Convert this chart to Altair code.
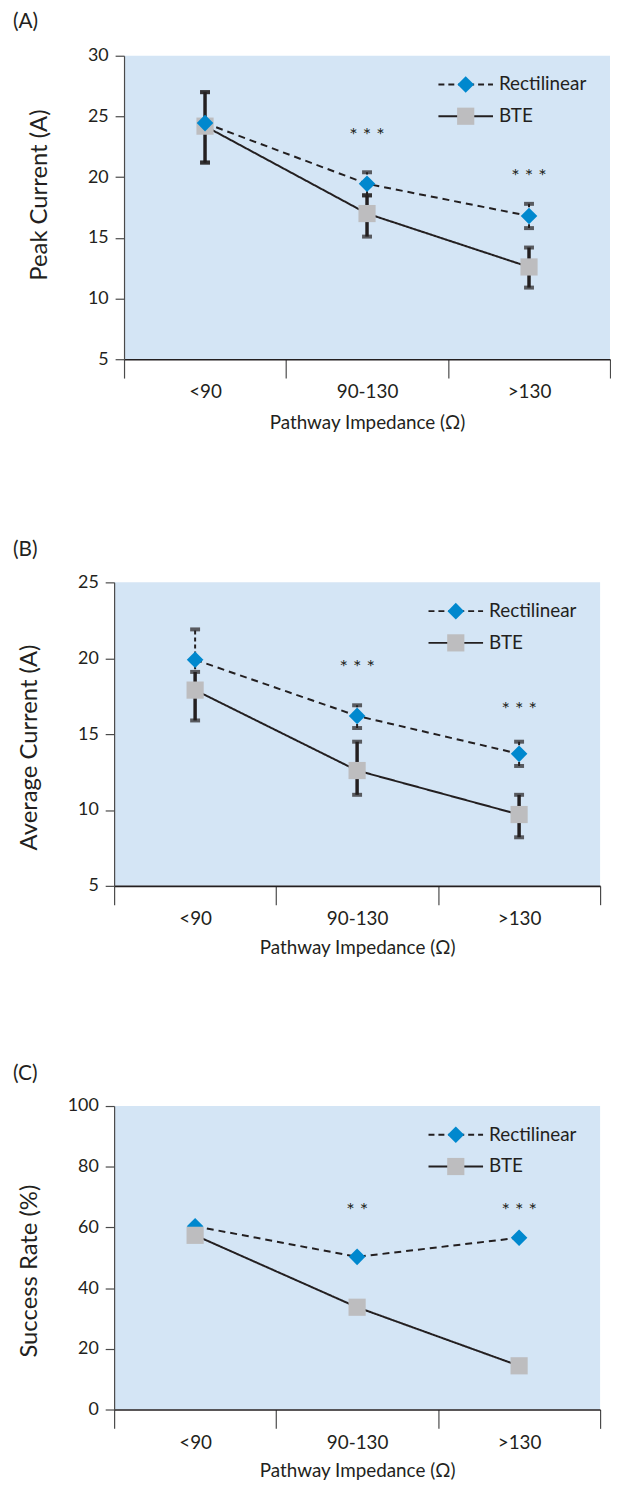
import altair as alt
import pandas as pd

CATS = ["<90", "90-130", ">130"]
SERIES = ["Rectilinear", "BTE"]

# Panel A: Peak Current (A)
A_RECT = [24.45, 19.45, 16.8]
A_RECT_LO = [21.2, 18.5, 15.8]
A_RECT_HI = [27.0, 20.4, 17.8]
A_BTE = [24.2, 17.0, 12.6]
A_BTE_LO = [21.2, 15.1, 10.9]
A_BTE_HI = [27.0, 18.5, 14.2]
A_STAR_CATS = ["90-130", ">130"]
A_STAR_TEXT = ["* * *", "* * *"]
A_STAR_Y = [23.8, 20.4]

# Panel B: Average Current (A)
B_RECT = [19.9, 16.2, 13.7]
B_RECT_LO = [17.9, 15.4, 12.9]
B_RECT_HI = [21.9, 16.9, 14.5]
B_BTE = [17.9, 12.6, 9.7]
B_BTE_LO = [15.9, 11.0, 8.2]
B_BTE_HI = [19.1, 14.5, 11.0]
B_STAR_CATS = ["90-130", ">130"]
B_STAR_TEXT = ["* * *", "* * *"]
B_STAR_Y = [19.7, 16.9]

# Panel C: Success Rate (%)
C_RECT = [60.4, 50.3, 56.6]
C_BTE = [57.4, 33.7, 14.4]
C_STAR_CATS = ["90-130", ">130"]
C_STAR_TEXT = ["* *", "* * *"]
C_STAR_Y = [67.1, 67.1]

FONT = "Lato"
BG = "#D4E5F5"
BLUE = "#0088CE"
GREY = "#BDBDBF"
INK = "#231F20"
AXC = "#4a4a4a"

W, H = 490, 306


def panel(tag, ytitle, ydomain, yticks, rect, bte, rect_lo=None, rect_hi=None,
          bte_lo=None, bte_hi=None, star_cats=(), star_text=(), star_y=(),
          rect_on_top=True, xo=0, ytitle_y=H / 2, xtitle_y=63, tag_y=-33):
    n = len(CATS)
    df = pd.DataFrame({
        "cat": CATS * 2,
        "series": [SERIES[0]] * n + [SERIES[1]] * n,
        "value": list(rect) + list(bte),
    })
    xax = alt.Axis(title="Pathway Impedance (Ω)", tickBand="extent", tickSize=19,
                   labelPadding=5, labelFont=FONT, labelFontSize=19, labelColor=INK,
                   labelAngle=0, titleFont=FONT, titleFontSize=19, titleFontWeight="normal",
                   titleColor=INK, titleX=xo + W / 2, titleY=xtitle_y, titleBaseline="middle",
                   titleAlign="center", domainColor=INK, domainWidth=1.6,
                   tickColor=AXC, tickWidth=1.2, grid=False, zindex=1)
    yax = alt.Axis(values=yticks, title=ytitle, titleFont=FONT, titleFontSize=24,
                   titleFontWeight="normal", titleColor=INK, titleX=-85, titleY=ytitle_y,
                   titleAngle=270, titleAlign="center", titleBaseline="middle",
                   labelFont=FONT, labelFontSize=18, labelColor=INK, labelPadding=7,
                   tickSize=9, tickColor=AXC, tickWidth=1.2, domainColor=AXC,
                   domainWidth=1.2, grid=False, offset=-xo, zindex=1)
    x = alt.X("cat:N", sort=CATS, axis=xax,
              scale=alt.Scale(type="band", paddingInner=0, paddingOuter=0, range=[xo, xo + W]))

    def y(field):
        return alt.Y(f"{field}:Q", axis=yax,
                     scale=alt.Scale(domain=ydomain, nice=False, zero=False))

    base = alt.Chart(df)
    # plot-area background
    bg = alt.Chart(pd.DataFrame({"bg": [0]})).mark_rect(color=BG).encode(
        x=alt.value(xo), x2=alt.value(xo + W), y=alt.value(0), y2=alt.value(H))
    lines = base.mark_line(color=INK, strokeWidth=2).encode(
        x=x, y=y("value"),
        strokeDash=alt.StrokeDash("series:N", scale=alt.Scale(domain=SERIES, range=[[7, 5], [1, 0]]),
                                  legend=None),
    )
    layers = [bg, lines]

    if rect_lo is not None:
        edf = pd.DataFrame({
            "cat": CATS * 2,
            "series": [SERIES[0]] * n + [SERIES[1]] * n,
            "lo": list(rect_lo) + list(bte_lo),
            "hi": list(rect_hi) + list(bte_hi),
        })
        eb = alt.Chart(edf)
        bte_rule = eb.transform_filter(alt.datum.series == "BTE").mark_rule(
            color=INK, strokeWidth=3.5).encode(x=x, y=y("lo"), y2="hi:Q")
        rect_rule = eb.transform_filter(alt.datum.series == "Rectilinear").mark_rule(
            color=INK, strokeWidth=2, strokeDash=[4, 3]).encode(x=x, y=y("lo"), y2="hi:Q")
        cap_lo = eb.mark_tick(color=INK, thickness=4, size=10, orient="horizontal").encode(x=x, y=y("lo"))
        cap_hi = eb.mark_tick(color=INK, thickness=4, size=10, orient="horizontal").encode(x=x, y=y("hi"))
        layers += [rect_rule, bte_rule, cap_lo, cap_hi]

    rect_pts = base.transform_filter(alt.datum.series == "Rectilinear").mark_point(
        shape="diamond", filled=True, opacity=1, size=280, color=BLUE).encode(x=x, y=y("value"))
    bte_pts = base.transform_filter(alt.datum.series == "BTE").mark_point(
        shape="square", filled=True, opacity=1, size=300, color=GREY).encode(x=x, y=y("value"))
    layers += [bte_pts, rect_pts] if rect_on_top else [rect_pts, bte_pts]

    sdf = pd.DataFrame({"cat": list(star_cats), "txt": list(star_text), "sy": list(star_y)})
    stars = alt.Chart(sdf).mark_text(font=FONT, fontSize=20, color=INK, baseline="middle", dy=5).encode(
        x=x, y=y("sy"), text="txt:N")
    layers.append(stars)

    # legend (inside the plot, top right)
    for i, (name, dash, shape, col, size) in enumerate([
        (SERIES[0], [6, 4], "diamond", BLUE, 280),
        (SERIES[1], [1, 0], "square", GREY, 300),
    ]):
        ly = 29 + 32 * i
        ldf = pd.DataFrame({"series": [name]})
        lc = alt.Chart(ldf)
        layers.append(lc.mark_rule(color=INK, strokeWidth=2, strokeDash=dash).encode(
            x=alt.value(xo + 317), x2=alt.value(xo + 372), y=alt.value(ly)))
        layers.append(lc.mark_point(shape=shape, filled=True, opacity=1, size=size, color=col).encode(
            x=alt.value(xo + 344.5), y=alt.value(ly)))
        layers.append(lc.mark_text(font=FONT, fontSize=19, color=INK, align="left", baseline="middle").encode(
            x=alt.value(xo + 378), y=alt.value(ly), text="series:N"))

    tdf = pd.DataFrame({"tag": [tag]})
    layers.append(alt.Chart(tdf).mark_text(font=FONT, fontSize=21, color=INK, align="left",
                                           baseline="middle").encode(
        x=alt.value(-102), y=alt.value(tag_y), text="tag:N"))

    return alt.layer(*layers).properties(width=W + 10, height=H)


pa = panel("(A)", "Peak Current (A)", [5, 30], [5, 10, 15, 20, 25, 30], A_RECT, A_BTE,
           A_RECT_LO, A_RECT_HI, A_BTE_LO, A_BTE_HI, A_STAR_CATS, A_STAR_TEXT, A_STAR_Y,
           rect_on_top=True, xo=10, ytitle_y=140, xtitle_y=64, tag_y=-34)
pb = panel("(B)", "Average Current (A)", [5, 25], [5, 10, 15, 20, 25], B_RECT, B_BTE,
           B_RECT_LO, B_RECT_HI, B_BTE_LO, B_BTE_HI, B_STAR_CATS, B_STAR_TEXT, B_STAR_Y,
           rect_on_top=True, xo=0, ytitle_y=166, xtitle_y=62, tag_y=-33)
pc = panel("(C)", "Success Rate (%)", [0, 100], [0, 20, 40, 60, 80, 100], C_RECT, C_BTE,
           star_cats=C_STAR_CATS, star_text=C_STAR_TEXT, star_y=C_STAR_Y,
           rect_on_top=False, xo=0, ytitle_y=166, xtitle_y=62, tag_y=-32)

chart = alt.vconcat(pa, pb, pc, spacing=107).properties(
    padding={"left": 5, "top": -3, "right": 0, "bottom": 0}
).configure_view(stroke=None)

chart.save("out.html", embed_options={"renderer": "svg", "actions": False})
